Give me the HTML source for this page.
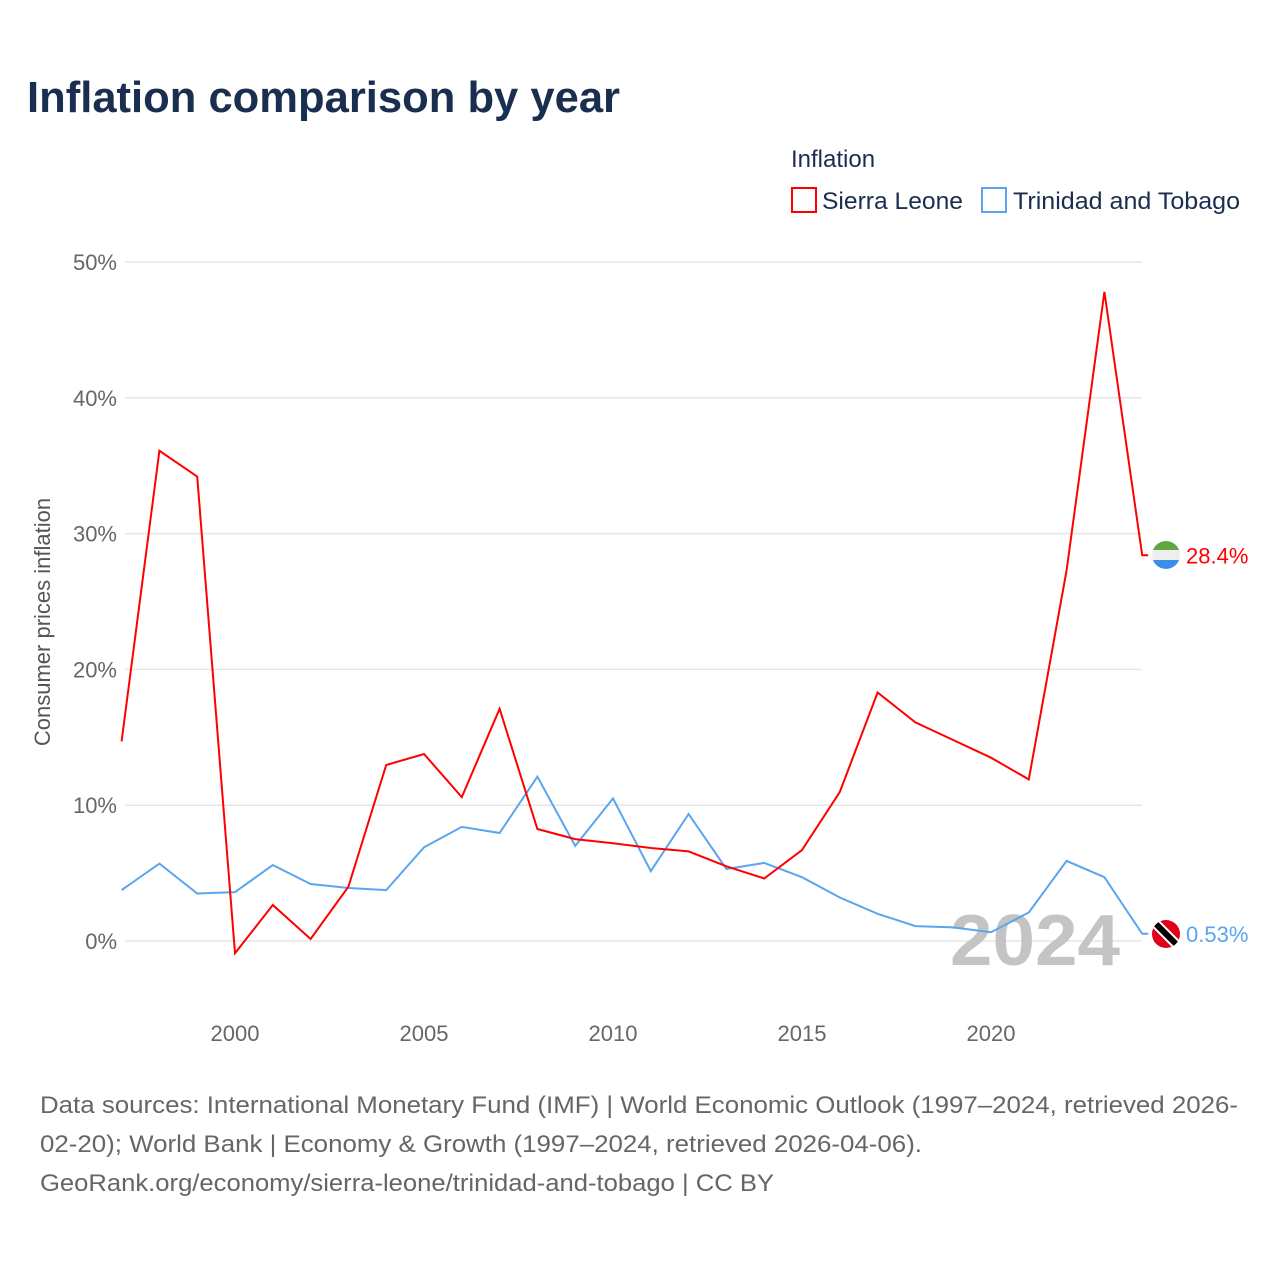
<!DOCTYPE html>
<html><head><meta charset="utf-8">
<style>
body{margin:0;background:#fff;font-family:"Liberation Sans",sans-serif;}
#wrap{position:relative;width:1280px;height:1280px;overflow:hidden;}
</style></head>
<body>
<div id="wrap">
<svg id="chart" width="1280" height="1280">
<text x="27" y="112" font-size="44" font-weight="bold" fill="#1a2e4f" textLength="593" lengthAdjust="spacingAndGlyphs">Inflation comparison by year</text>
<text x="791" y="167" font-size="24" fill="#1a2e4f">Inflation</text>
<g>
<rect x="792" y="188" width="24" height="24" fill="none" stroke="#ff0000" stroke-width="2"/>
<text x="822" y="209" font-size="24" fill="#1a2e4f" textLength="141" lengthAdjust="spacingAndGlyphs">Sierra Leone</text></g>
<g>
<rect x="982" y="188" width="24" height="24" fill="none" stroke="#5aa5ef" stroke-width="2"/>
<text x="1013" y="209" font-size="24" fill="#1a2e4f" textLength="227" lengthAdjust="spacingAndGlyphs">Trinidad and Tobago</text></g>
<g id="grid"></g>
<text x="0" y="0" transform="translate(50,622) rotate(-90)" text-anchor="middle" font-size="22" fill="#555">Consumer prices inflation</text>
<text x="950" y="965" font-size="72" font-weight="bold" fill="#c4c4c4" textLength="170" lengthAdjust="spacingAndGlyphs">2024</text>
<g id="series"></g>
<g id="flags">
<g>
<clipPath id="c1"><circle cx="1166" cy="555" r="14"/></clipPath>
<g clip-path="url(#c1)"><rect x="1150" y="540" width="32" height="10" fill="#5fa640"/><rect x="1150" y="550" width="32" height="10" fill="#eee"/><rect x="1150" y="560" width="32" height="12" fill="#3d8ee8"/></g></g>
<g>
<clipPath id="c2"><circle cx="1166" cy="934" r="14"/></clipPath>
<g clip-path="url(#c2)"><rect x="1150" y="918" width="32" height="32" fill="#e0001a"/><line x1="1154" y1="922" x2="1178" y2="946" stroke="#fff" stroke-width="10"/><line x1="1154" y1="922" x2="1178" y2="946" stroke="#000" stroke-width="6"/></g></g>
</g>
<text x="40" y="1113" font-size="24" fill="#666" textLength="1198" lengthAdjust="spacingAndGlyphs">Data sources: International Monetary Fund (IMF) | World Economic Outlook (1997–2024, retrieved 2026-</text>
<text x="40" y="1152" font-size="24" fill="#666" textLength="882" lengthAdjust="spacingAndGlyphs">02-20); World Bank | Economy &amp; Growth (1997–2024, retrieved 2026-04-06).</text>
<text x="40" y="1191" font-size="24" fill="#666" textLength="734" lengthAdjust="spacingAndGlyphs">GeoRank.org/economy/sierra-leone/trinidad-and-tobago | CC BY</text>
</svg>
</div>
<script>
const years=[1997,1998,1999,2000,2001,2002,2003,2004,2005,2006,2007,2008,2009,2010,2011,2012,2013,2014,2015,2016,2017,2018,2019,2020,2021,2022,2023,2024];
const sierraLeone=[14.7,36.1,34.2,-0.9,2.65,0.15,4.0,12.96,13.77,10.6,17.1,8.25,7.5,7.2,6.85,6.6,5.5,4.6,6.7,10.97,18.3,16.1,14.8,13.5,11.9,27.3,47.8,28.4];
const trinidad=[3.75,5.7,3.5,3.6,5.6,4.2,3.9,3.75,6.9,8.4,7.95,12.1,7.0,10.5,5.15,9.35,5.3,5.75,4.7,3.2,2.0,1.1,1.0,0.65,2.1,5.9,4.7,0.53];
const yTicks=[0,10,20,30,40,50];
const xTicks=[2000,2005,2010,2015,2020];
const NS="http://www.w3.org/2000/svg";
const X=y=>235+(y-2000)*37.8;
const Y=v=>941-v*13.58;
function mk(t,a,p){const e=document.createElementNS(NS,t);for(const k in a)e.setAttribute(k,a[k]);p.appendChild(e);return e;}
const grid=document.getElementById('grid');
yTicks.forEach(t=>{
const l=mk('line',{x1:125,x2:1142,y1:Y(t),y2:Y(t),stroke:'#e6e6e6','stroke-width':1.5},grid);


const tx=mk('text',{x:117,y:Y(t)+8,'text-anchor':'end','font-size':22,fill:'#666'},grid);
tx.textContent=t+'%';


});
xTicks.forEach(t=>{
const tx=mk('text',{x:X(t),y:1041,'text-anchor':'middle','font-size':22,fill:'#666'},grid);
tx.textContent=t;


});
const ser=document.getElementById('series');
function line(vals,col,name,label){
let d=vals.map((v,i)=>(i?'L':'M')+X(years[i]).toFixed(1)+','+Y(v).toFixed(1)).join(' ');
const last=vals[vals.length-1];
d+=' L'+(X(2024)+6)+','+Y(last).toFixed(1);
const p=mk('path',{d:d,fill:'none',stroke:col,'stroke-width':2},ser);


const t=mk('text',{x:1186,y:Y(last)+8,'font-size':22,fill:col},ser);
t.textContent=label;


}
line(trinidad,'#5aa5ef','trinidad','0.53%');
line(sierraLeone,'#ff0000','sierra-leone','28.4%');
</script>
</body></html>
